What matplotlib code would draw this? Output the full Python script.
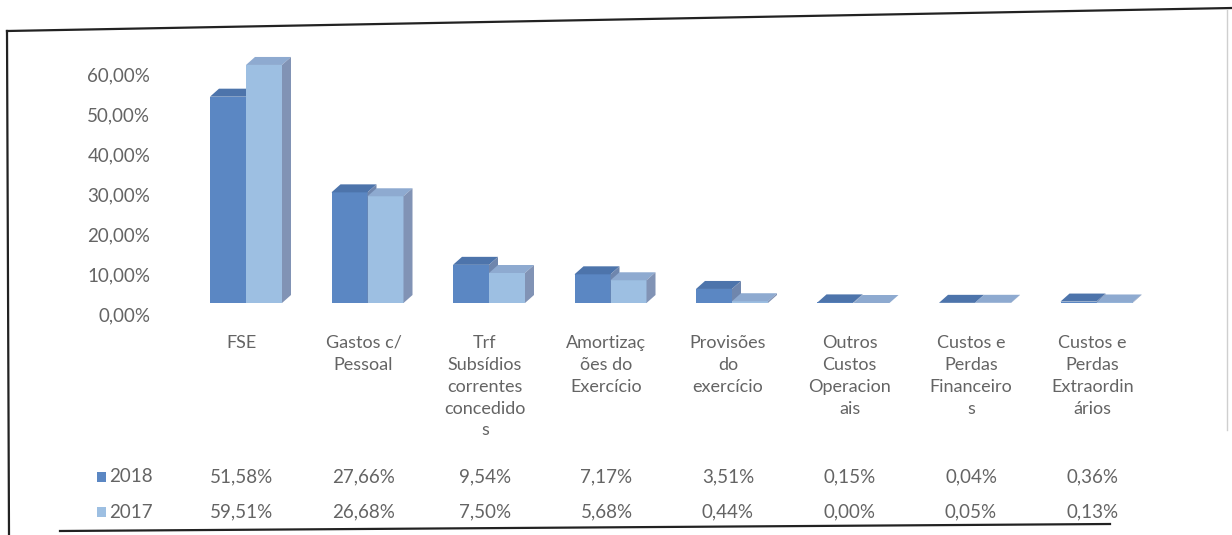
import matplotlib
matplotlib.use("Agg")
import matplotlib.pyplot as plt
from matplotlib.patches import Polygon, Rectangle
from matplotlib.lines import Line2D
from matplotlib import transforms

# categorias e percentagens por ano
categorias = ["FSE", "Gastos c/\nPessoal", "Trf\nSubsídios\ncorrentes\nconcedido\ns",
              "Amortizaç\nões do\nExercício", "Provisões\ndo\nexercício",
              "Outros\nCustos\nOperacion\nais", "Custos e\nPerdas\nFinanceiro\ns",
              "Custos e\nPerdas\nExtraordin\nários"]
anos = ["2018", "2017"]
valores_2018 = [51.58, 27.66, 9.54, 7.17, 3.51, 0.15, 0.04, 0.36]
valores_2017 = [59.51, 26.68, 7.50, 5.68, 0.44, 0.00, 0.05, 0.13]
yticks = [0, 10, 20, 30, 40, 50, 60]

W, H = 1232, 535
plt.rcParams["font.family"] = ["Lato", "DejaVu Sans"]
cinza = "#646464"

fig = plt.figure(figsize=(W / 100, H / 100), dpi=100)
fig.patch.set_facecolor("white")

# eixo: x -> 242 + 121.5*k px, y -> 0% em 303 px, 4 px por %
px_x, x0 = 121.5, 242
ax_l, ax_r, ax_b, ax_t = 160, 1200, 303, 43
ax = fig.add_axes([ax_l / W, (H - ax_b) / H, (ax_r - ax_l) / W, (ax_b - ax_t) / H])
ax.set_xlim((ax_l - x0) / px_x, (ax_r - x0) / px_x)
ax.set_ylim(0, 65)
for s in ax.spines.values():
    s.set_visible(False)
ax.set_xticks([])
ax.set_yticks(yticks)
ax.set_yticklabels([f"{v:.2f}".replace(".", ",") + "%" for v in yticks])
ax.tick_params(axis="y", length=0, pad=7, labelsize=13.5, labelcolor=cinza)
desloc = transforms.ScaledTranslation(0, -11 / 100, fig.dpi_scale_trans)
for lab in ax.get_yticklabels():
    lab.set_transform(lab.get_transform() + desloc)

# barras 3D desenhadas com faces frente / topo / lado
largura = 36 / px_x
dx, dy = 9 / px_x, 8 / 4.0
cores = {
    "2018": ("#5b87c3", "#4d74ab", "#6f86ad"),
    "2017": ("#9dbfe2", "#8eaad0", "#8193b5"),
}


def barra3d(x, h, frente, topo, lado):
    ax.add_patch(Rectangle((x, 0), largura, h, facecolor=frente,
                           edgecolor="none", zorder=2))
    ax.add_patch(Polygon([(x, h), (x + dx, h + dy), (x + largura + dx, h + dy),
                          (x + largura, h)], closed=True, facecolor=topo,
                         edgecolor="none", zorder=2))
    ax.add_patch(Polygon([(x + largura, 0), (x + largura, h),
                          (x + largura + dx, h + dy), (x + largura + dx, dy)],
                         closed=True, facecolor=lado, edgecolor="none", zorder=2))


for k in range(len(categorias)):
    c = k + 4 / px_x
    barra3d(c - largura, valores_2018[k], *cores["2018"])
    barra3d(c, valores_2017[k], *cores["2017"])

# tabela de dados por baixo do gráfico
tr = transforms.blended_transform_factory(ax.transData, fig.transFigure)
for k, nome in enumerate(categorias):
    ax.text(k, 1 - 335 / H, nome, transform=tr, ha="center", va="top",
            fontsize=13, color=cinza, linespacing=1.45, clip_on=False)
    ax.text(k, 1 - 477 / H, f"{valores_2018[k]:.2f}".replace(".", ",") + "%",
            transform=tr, ha="center", va="center", fontsize=13.5, color=cinza,
            clip_on=False)
    ax.text(k, 1 - 512 / H, f"{valores_2017[k]:.2f}".replace(".", ",") + "%",
            transform=tr, ha="center", va="center", fontsize=13.5, color=cinza,
            clip_on=False)

for ano, yp in zip(anos, [477, 512]):
    fig.add_artist(Rectangle((97 / W, 1 - (yp + 5) / H), 9 / W, 10 / H,
                             transform=fig.transFigure, facecolor=cores[ano][0],
                             edgecolor="none"))
    fig.text(109 / W, 1 - yp / H, ano, ha="left", va="center",
             fontsize=13.5, color=cinza)

# moldura
def linha(p, q, **kw):
    fig.add_artist(Line2D([p[0] / W, q[0] / W], [1 - p[1] / H, 1 - q[1] / H],
                          transform=fig.transFigure, **kw))


linha((7, 31), (1232, 8), color="#222222", lw=1.6)
linha((7, 31), (9, 535), color="#222222", lw=1.6)
linha((60, 531), (1110, 524), color="#222222", lw=1.6)
linha((1227, 10), (1227, 430), color="#cfcfcf", lw=1)

fig.savefig("out.png", dpi=100, facecolor="white")
